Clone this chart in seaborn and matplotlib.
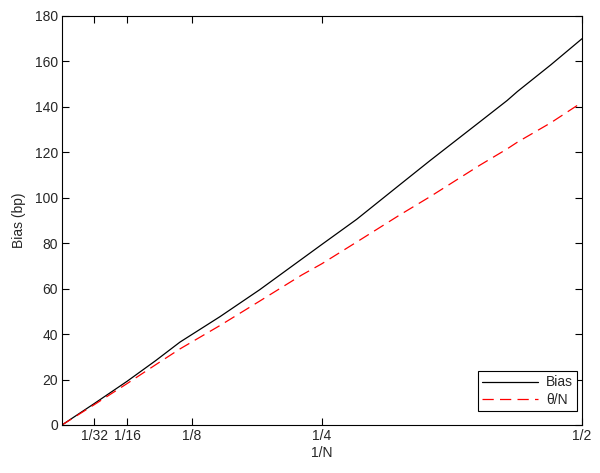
import matplotlib
matplotlib.use("Agg")
import matplotlib.pyplot as plt
import pandas as pd
import seaborn as sns

# values (x = 1/N)
inv_n = [0, 0.03125, 0.0625, 0.09, 0.1135, 0.152, 0.19, 0.2305, 0.25,
         0.2833, 0.325, 0.354, 0.402, 0.428, 0.438, 0.47, 0.5]
bias = [0, 9.5, 19.2, 28.3, 36.5, 47.7, 59.5, 73.0, 79.5,
        90.5, 105.8, 116.4, 133.5, 142.8, 146.8, 158.5, 170.0]
theta_over_n = [0, 9.0, 18.2, 26.5, 33.5, 43.8, 54.5, 66.0, 71.0,
                80.5, 92.5, 100.5, 114.4, 121.5, 124.5, 133.0, 142.0]

tick_pos = [1 / 32, 1 / 16, 1 / 8, 1 / 4, 1 / 2]
tick_labels = ["1/32", "1/16", "1/8", "1/4", "1/2"]

sns.set_theme(style="ticks")
plt.rcParams["font.family"] = ["Liberation Sans", "DejaVu Sans"]
plt.rcParams["xtick.direction"] = "in"
plt.rcParams["ytick.direction"] = "in"

df = pd.DataFrame({"inv_n": inv_n, "bias": bias, "theta": theta_over_n})

fig = plt.figure(figsize=(6.0, 4.73), dpi=100)
ax = fig.add_axes([0.1033, 0.1015, 0.8667, 0.8647])

sns.lineplot(data=df, x="inv_n", y="bias", ax=ax, color="black", linewidth=0.9, label="Bias")
sns.lineplot(data=df, x="inv_n", y="theta", ax=ax, color="#ff0000", linewidth=0.9,
             dashes=False, linestyle=(0, (9, 5)), label="θ/N")

ax.set_xlim(0, 0.5)
ax.set_ylim(0, 180)
ax.set_xticks(tick_pos, tick_labels)
ax.set_yticks(range(0, 181, 20))
ax.tick_params(axis="both", which="both", top=True, right=True, labelsize=10,
               length=5, width=0.8, color="black", pad=3)
for side in ["top", "right", "bottom", "left"]:
    ax.spines[side].set_visible(True)
    ax.spines[side].set_linewidth(0.8)
    ax.spines[side].set_color("black")

ax.set_xlabel("1/N", fontsize=10, labelpad=2)
ax.set_ylabel("Bias (bp)", fontsize=10, labelpad=6)

leg = ax.legend(loc="lower right", bbox_to_anchor=(0.9904, 0.0342), borderaxespad=0,
                fontsize=10, frameon=True, fancybox=False, handlelength=4.0,
                labelspacing=0.25, borderpad=0.3, handletextpad=0.6)
leg.get_frame().set_edgecolor("black")
leg.get_frame().set_linewidth(0.8)
leg.get_frame().set_alpha(1)

fig.savefig("out.png", dpi=100, facecolor="white")
